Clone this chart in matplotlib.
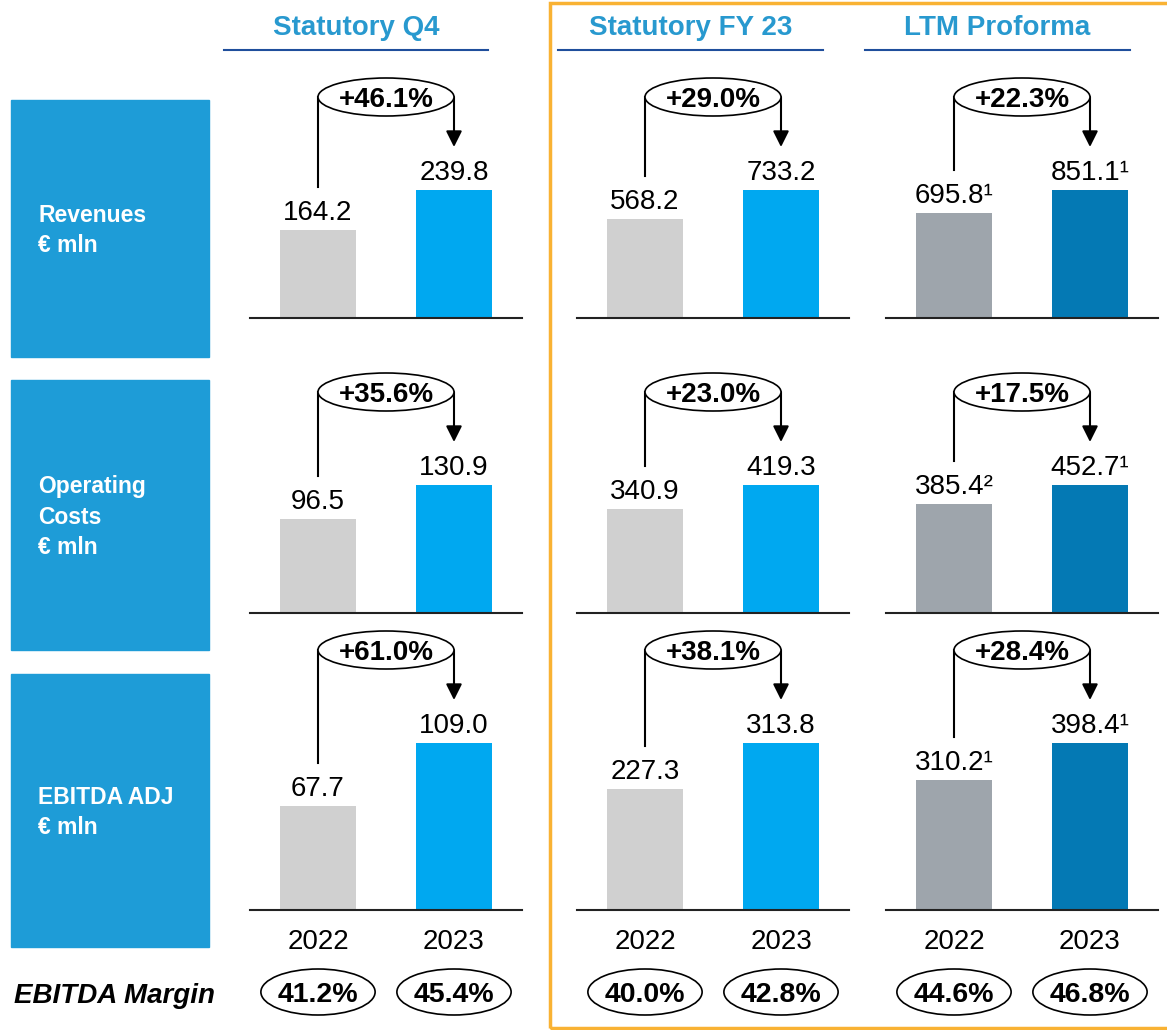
import matplotlib.pyplot as plt
from matplotlib.patches import Ellipse, Rectangle
from matplotlib.lines import Line2D

plt.rcParams['font.family'] = ['Liberation Sans', 'DejaVu Sans']

# data
years = ['2022', '2023']
row_labels = ['Revenues\n€ mln', 'Operating\nCosts\n€ mln', 'EBITDA ADJ\n€ mln']
col_titles = ['Statutory Q4', 'Statutory FY 23', 'LTM Proforma']

q4_values = [[164.2, 239.8], [96.5, 130.9], [67.7, 109.0]]
fy_values = [[568.2, 733.2], [340.9, 419.3], [227.3, 313.8]]
ltm_values = [[695.8, 851.1], [385.4, 452.7], [310.2, 398.4]]
ltm_notes = [['¹', '¹'], ['²', '¹'], ['¹', '¹']]

q4_growth = ['+46.1%', '+35.6%', '+61.0%']
fy_growth = ['+29.0%', '+23.0%', '+38.1%']
ltm_growth = ['+22.3%', '+17.5%', '+28.4%']

q4_margin = ['41.2%', '45.4%']
fy_margin = ['40.0%', '42.8%']
ltm_margin = ['44.6%', '46.8%']

W, H = 1167, 1030
fig = plt.figure(figsize=(W / 100, H / 100), dpi=100)

BLUE_BOX = '#1E9CD7'
TITLE_BLUE = '#2899CF'
col_colors = [('#D0D0D0', '#00A8F0'), ('#D0D0D0', '#00A8F0'), ('#9EA5AC', '#0479B4')]
col_left = [250, 577, 886]
row_base = [318, 613, 910]
bar_top_px = [128, 128, 167]
AX_W, AX_H = 272, 290


def fx(x):
    return x / W


def fy(y):
    return 1 - y / H


# left row boxes
boxes = [(100, 357), (380, 650), (674, 947)]
for (y0, y1), lab in zip(boxes, row_labels):
    fig.patches.append(Rectangle((fx(11), fy(y1)), fx(198), (y1 - y0) / H,
                                 transform=fig.transFigure, color=BLUE_BOX, zorder=0))
    fig.text(fx(38), fy((y0 + y1) / 2 + 2), lab, color='white', fontsize=16.5,
             fontweight='bold', ha='left', va='center', linespacing=1.4)

# orange frame
fig.patches.append(Rectangle((fx(550), fy(1028)), fx(640), 1025 / H, transform=fig.transFigure,
                             fill=False, ec='#F9B233', lw=2.5, zorder=0))

# column headers
title_x = [(224, 488), (558, 823), (865, 1130)]
for (x0, x1), t in zip(title_x, col_titles):
    fig.text(fx((x0 + x1) / 2), fy(25), t, color=TITLE_BLUE, fontsize=20,
             fontweight='bold', ha='center', va='center_baseline')
    fig.lines.append(Line2D([fx(x0), fx(x1)], [fy(50), fy(50)], transform=fig.transFigure,
                            color='#1F4E9C', lw=1.5))

fig.text(fx(14), fy(993), 'EBITDA Margin', fontsize=20, fontweight='bold',
         fontstyle='italic', ha='left', va='center_baseline')

all_values = [q4_values, fy_values, ltm_values]
all_growth = [q4_growth, fy_growth, ltm_growth]
all_margin = [q4_margin, fy_margin, ltm_margin]

for c in range(3):
    for r in range(3):
        vals = all_values[c][r]
        notes = ltm_notes[r] if c == 2 else ['', '']
        ax = fig.add_axes([fx(col_left[c]), fy(row_base[r]), AX_W / W, AX_H / H])
        ax.patch.set_alpha(0)
        ppu = bar_top_px[r] / vals[1]
        ax.bar([0, 1], vals, width=0.56, color=col_colors[c])
        ax.set_xlim(-0.5, 1.5)
        ax.set_ylim(0, AX_H / ppu)
        for sp in ['top', 'left', 'right']:
            ax.spines[sp].set_visible(False)
        ax.spines['bottom'].set_color('#222222')
        ax.spines['bottom'].set_linewidth(1.5)
        ax.set_yticks([])
        if r == 2:
            ax.set_xticks([0, 1], years, fontsize=20)
            ax.tick_params(axis='x', length=0, pad=14)
        else:
            ax.set_xticks([])

        for i, v in enumerate(vals):
            ax.text(i, v + 10 / ppu, f'{v:.1f}{notes[i]}', ha='center', va='baseline',
                    fontsize=20)

        y_ell = vals[1] + 93 / ppu
        ax.plot([0, 0], [vals[0] + 43 / ppu, y_ell], color='black', lw=1.5, clip_on=False)
        ax.annotate('', xy=(1, vals[1] + 43 / ppu), xytext=(1, y_ell),
                    arrowprops=dict(arrowstyle='-|>', color='black', lw=1.5, mutation_scale=24,
                                    shrinkA=0, shrinkB=0), annotation_clip=False)
        ax.add_patch(Ellipse((0.5, y_ell), 1.0, 38 / ppu, fc='white', ec='black', lw=1.2,
                             clip_on=False, zorder=3))
        ax.text(0.5, y_ell, all_growth[c][r], ha='center', va='center_baseline', fontsize=20,
                fontweight='bold', zorder=4)

        if r == 2:
            y_m = -82 / ppu
            for i, m in enumerate(all_margin[c]):
                ax.add_patch(Ellipse((i, y_m), 0.84, 46 / ppu, fc='white', ec='black', lw=1.2,
                                     clip_on=False, zorder=3))
                ax.text(i, y_m, m, ha='center', va='center_baseline', fontsize=20.5,
                        fontweight='bold', zorder=4)

fig.savefig('out.png', dpi=100)
